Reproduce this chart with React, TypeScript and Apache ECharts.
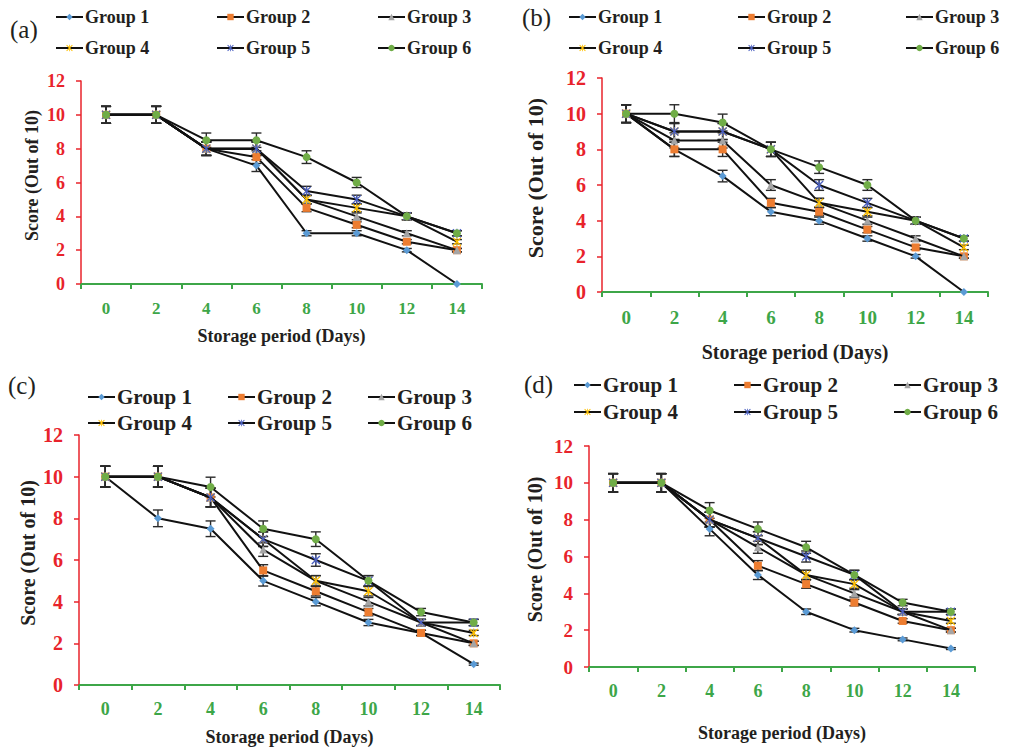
import React, { useEffect, useRef } from "react";
import * as echarts from "echarts";

const DAYS = ["0", "2", "4", "6", "8", "10", "12", "14"];
const GROUPS = ["Group 1", "Group 2", "Group 3", "Group 4", "Group 5", "Group 6"];

// Panel (a)
const A_G1 = [10, 10, 8, 7, 3, 3, 2, 0];
const A_G2 = [10, 10, 8, 7.5, 4.5, 3.5, 2.5, 2];
const A_G3 = [10, 10, 8, 8, 5, 4, 3, 2];
const A_G4 = [10, 10, 8, 8, 5, 4.5, 4, 2.5];
const A_G5 = [10, 10, 8, 8, 5.5, 5, 4, 3];
const A_G6 = [10, 10, 8.5, 8.5, 7.5, 6, 4, 3];

// Panel (b)
const B_G1 = [10, 8, 6.5, 4.5, 4, 3, 2, 0];
const B_G2 = [10, 8, 8, 5, 4.5, 3.5, 2.5, 2];
const B_G3 = [10, 8.5, 8.5, 6, 5, 4, 3, 2];
const B_G4 = [10, 9, 9, 8, 5, 4.5, 4, 2.5];
const B_G5 = [10, 9, 9, 8, 6, 5, 4, 3];
const B_G6 = [10, 10, 9.5, 8, 7, 6, 4, 3];

// Panel (c)
const C_G1 = [10, 8, 7.5, 5, 4, 3, 2.5, 1];
const C_G2 = [10, 10, 9, 5.5, 4.5, 3.5, 2.5, 2];
const C_G3 = [10, 10, 9, 6.5, 5, 4, 3, 2];
const C_G4 = [10, 10, 9, 7, 5, 4.5, 3, 2.5];
const C_G5 = [10, 10, 9, 7, 6, 5, 3, 3];
const C_G6 = [10, 10, 9.5, 7.5, 7, 5, 3.5, 3];

// Panel (d)
const D_G1 = [10, 10, 7.5, 5, 3, 2, 1.5, 1];
const D_G2 = [10, 10, 8, 5.5, 4.5, 3.5, 2.5, 2];
const D_G3 = [10, 10, 8, 6.5, 5, 4, 3, 2];
const D_G4 = [10, 10, 8, 7, 5, 4.5, 3, 2.5];
const D_G5 = [10, 10, 8, 7, 6, 5, 3, 3];
const D_G6 = [10, 10, 8.5, 7.5, 6.5, 5, 3.5, 3];

// Excel-style percentage error bars
const ERROR_PERCENT = 5;

const Y_MIN = 0;
const Y_MAX = 12;
const Y_STEP = 2;

const STAR =
  "path://M1,0L5,4L9,0L10,1L6,5L10,9L9,10L5,6L1,10L0,9L4,5L0,1ZM4.4,0L5.6,0L5.6,10L4.4,10Z";

const MARKERS = [
  { symbol: "diamond", size: 8, color: "#5B9BD5" },
  { symbol: "rect", size: 8, color: "#ED7D31" },
  { symbol: "triangle", size: 8, color: "#A5A5A5" },
  { symbol: STAR, size: 9, color: "#FFC000" },
  { symbol: STAR, size: 9, color: "#4A5FC1" },
  { symbol: "circle", size: 8, color: "#70AD47" },
];

const FONT = "'Liberation Serif', 'Times New Roman', serif";
const RED = "#E8232B";
const GREEN = "#3DA648";

const PANELS = [
  {
    tag: "(a)", tagX: 10, tagY: 30,
    data: [A_G1, A_G2, A_G3, A_G4, A_G5, A_G6],
    grid: { left: 81, top: 81, width: 401, height: 203 },
    yLabel: 18, xLabel: 17, yName: 18, xName: 18, yNameGap: 40, xNameGap: 43, labelMargin: 16,
    legendFont: 18, legendRows: [17, 48], legendCols: [55, 216, 377],
  },
  {
    tag: "(b)", tagX: 522, tagY: 18,
    data: [B_G1, B_G2, B_G3, B_G4, B_G5, B_G6],
    grid: { left: 602, top: 78, width: 386, height: 214 },
    yLabel: 20, xLabel: 19, yName: 22, xName: 20, yNameGap: 56, xNameGap: 50, labelMargin: 16,
    legendFont: 18, legendRows: [17, 48], legendCols: [568, 737, 905],
  },
  {
    tag: "(c)", tagX: 8, tagY: 386,
    data: [C_G1, C_G2, C_G3, C_G4, C_G5, C_G6],
    grid: { left: 79, top: 435, width: 421, height: 250 },
    yLabel: 20, xLabel: 18, yName: 20, xName: 18, yNameGap: 41, xNameGap: 43, labelMargin: 15,
    legendFont: 21, legendRows: [397, 423], legendCols: [87, 227, 367],
  },
  {
    tag: "(d)", tagX: 524, tagY: 385,
    data: [D_G1, D_G2, D_G3, D_G4, D_G5, D_G6],
    grid: { left: 589, top: 446, width: 386, height: 221 },
    yLabel: 19, xLabel: 18, yName: 20, xName: 18, yNameGap: 44, xNameGap: 57, labelMargin: 15,
    legendFont: 21, legendRows: [385, 412], legendCols: [573, 733, 893],
  },
];

function buildOption() {
  const grids: any[] = [];
  const xAxes: any[] = [];
  const yAxes: any[] = [];
  const series: any[] = [];
  const legends: any[] = [];
  const graphics: any[] = [];

  PANELS.forEach((p, pi) => {
    grids.push({ ...p.grid, containLabel: false });
    xAxes.push({
      type: "category",
      gridIndex: pi,
      data: DAYS,
      boundaryGap: true,
      name: "Storage period (Days)",
      nameLocation: "middle",
      nameGap: p.xNameGap,
      nameTextStyle: { fontFamily: FONT, fontWeight: "bold", fontSize: p.xName, color: "#231F20" },
      axisLine: { lineStyle: { color: GREEN, width: 2 } },
      axisTick: { show: true, inside: false, length: 5, lineStyle: { color: GREEN, width: 2 } },
      axisLabel: {
        fontFamily: FONT, fontWeight: "bold", fontSize: p.xLabel, color: GREEN, margin: p.labelMargin,
      },
      splitLine: { show: false },
    });
    yAxes.push({
      type: "value",
      gridIndex: pi,
      min: Y_MIN,
      max: Y_MAX,
      interval: Y_STEP,
      name: "Score (Out of 10)",
      nameLocation: "middle",
      nameGap: p.yNameGap,
      nameTextStyle: {
        fontFamily: FONT, fontWeight: "bold", fontSize: p.yName, color: "#231F20",
        padding: [0, 0, 0, 14],
      },
      axisLine: { show: true, lineStyle: { color: RED, width: 1.5 } },
      axisTick: { show: true, inside: false, length: 5, lineStyle: { color: RED, width: 1.5 } },
      axisLabel: { fontFamily: FONT, fontWeight: "bold", fontSize: p.yLabel, color: RED, margin: 16 },
      splitLine: { show: false },
    });

    // error bars
    const errData: number[][] = [];
    p.data.forEach((vals) => {
      vals.forEach((v, i) => {
        const e = (v * ERROR_PERCENT) / 100;
        if (e > 0) errData.push([i, v - e, v + e]);
      });
    });
    series.push({
      type: "custom",
      xAxisIndex: pi,
      yAxisIndex: pi,
      z: 1,
      silent: true,
      data: errData,
      encode: { x: 0, y: [1, 2] },
      renderItem: (params: any, api: any) => {
        const x = api.value(0);
        const lo = api.coord([x, api.value(1)]);
        const hi = api.coord([x, api.value(2)]);
        const w = 5;
        const st = { stroke: "#2a2a2a", lineWidth: 1.4 };
        return {
          type: "group",
          children: [
            { type: "line", shape: { x1: lo[0], y1: lo[1], x2: hi[0], y2: hi[1] }, style: st },
            { type: "line", shape: { x1: lo[0] - w, y1: lo[1], x2: lo[0] + w, y2: lo[1] }, style: st },
            { type: "line", shape: { x1: hi[0] - w, y1: hi[1], x2: hi[0] + w, y2: hi[1] }, style: st },
          ],
        };
      },
    });

    p.data.forEach((vals, gi) => {
      const m = MARKERS[gi];
      series.push({
        type: "line",
        name: GROUPS[gi],
        xAxisIndex: pi,
        yAxisIndex: pi,
        data: vals,
        z: 2 + gi,
        symbol: m.symbol,
        symbolSize: m.size,
        showAllSymbol: true,
        itemStyle: { color: m.color, borderWidth: 0 },
        lineStyle: { color: "#111111", width: 2 },
        emphasis: { disabled: true },
      });
    });

    GROUPS.forEach((g, gi) => {
      const row = Math.floor(gi / 3);
      const col = gi % 3;
      legends.push({
        left: p.legendCols[col],
        top: p.legendRows[row] - p.legendFont / 2,
        padding: 0,
        itemWidth: 27,
        itemHeight: 8,
        selectedMode: false,
        data: [g],
        textStyle: {
          fontFamily: FONT, fontWeight: "bold", fontSize: p.legendFont, color: "#231F20",
          padding: [0, 0, 0, -3],
        },
      });
    });

    graphics.push({
      type: "text",
      left: p.tagX,
      top: p.tagY - 13,
      style: { text: p.tag, font: `25px ${FONT}`, fill: "#231F20" },
    });
  });

  return {
    animation: false,
    backgroundColor: "#ffffff",
    grid: grids,
    xAxis: xAxes,
    yAxis: yAxes,
    legend: legends,
    series,
    graphic: graphics,
  };
}

export default function App() {
  const ref = useRef<HTMLDivElement>(null);
  useEffect(() => {
    if (!ref.current) return;
    const chart = echarts.init(ref.current, undefined, { renderer: "svg" });
    chart.setOption(buildOption() as any);
    return () => chart.dispose();
  }, []);
  return (
    <div
      ref={ref}
      style={{ position: "absolute", left: 0, top: 0, width: 1011, height: 748, background: "#fff" }}
    />
  );
}
